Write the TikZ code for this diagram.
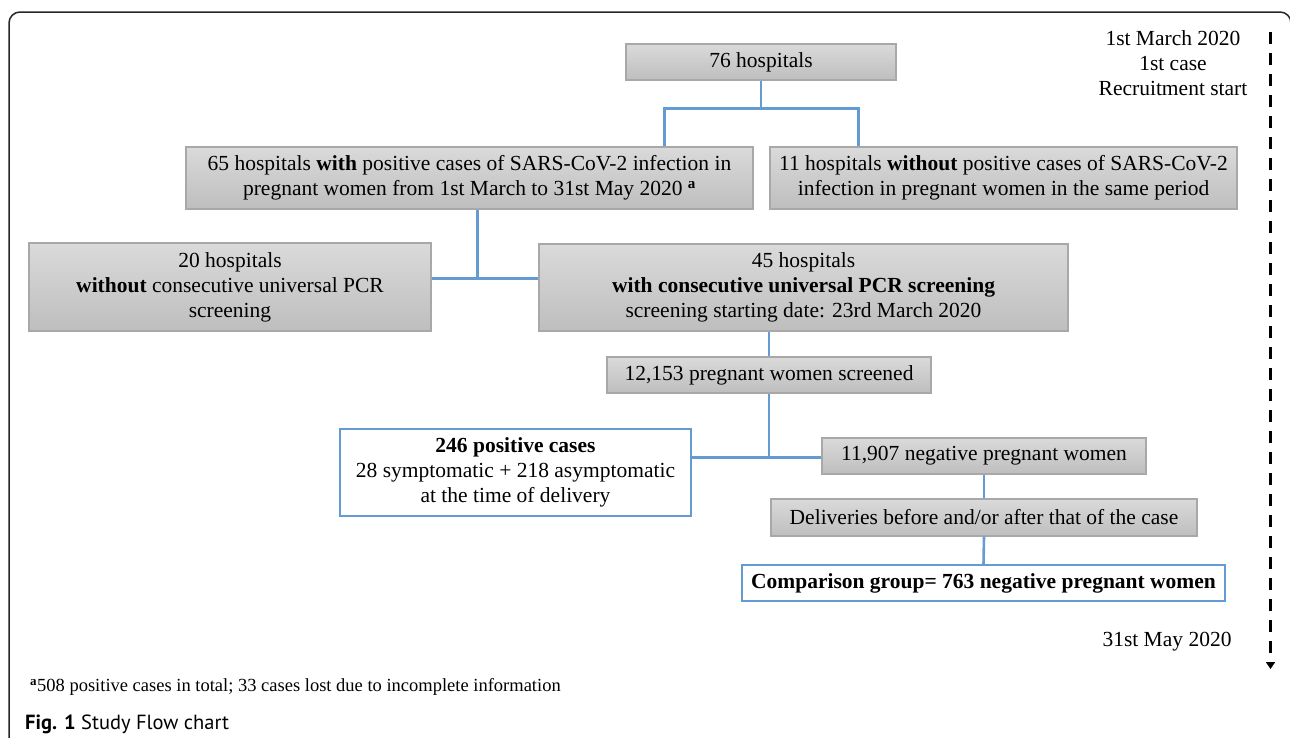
\documentclass[tikz,border=0pt]{standalone}
\usepackage{fontspec}
\setmainfont{Liberation Serif}
\newfontfamily\capfont{PT Sans}
\usetikzlibrary{calc,arrows.meta}
\definecolor{lineblue}{RGB}{100,155,210}
\definecolor{boxtop}{RGB}{218,218,218}
\definecolor{boxbot}{RGB}{190,190,190}
\definecolor{boxedge}{RGB}{168,168,168}
\begin{document}
\begin{tikzpicture}[x=1pt,y=-1pt,
  txt/.style={font=\fontsize{21.5}{25}\selectfont, align=center, inner sep=0pt},
  graybox/.style={txt, draw=boxedge, line width=1.2pt, top color=boxtop, bottom color=boxbot},
  bluebox/.style={txt, draw=lineblue, line width=1.3pt, fill=white},
  conn/.style={draw=lineblue, line width=2.6pt},
]
\clip (0,0) rectangle (1290,737);
\fill[white] (0,0) rectangle (1290,737);
% outer frame
\draw[line width=1.5pt, black!85, rounded corners=11pt] (9,760) -- (9,12) -- (1291,12) -- (1291,760);

% boxes
\node[graybox, minimum width=270, minimum height=36] (n76) at (761,62) {76 hospitals};
\node[graybox, minimum width=567, minimum height=62] (n65) at (469.5,178)
  {65 hospitals \textbf{with} positive cases of SARS-CoV-2 infection in\\
   pregnant women from 1st March to 31st May 2020 \textsuperscript{\textbf{a}}};
\node[graybox, minimum width=467, minimum height=62] (n11) at (1003.5,178)
  {11 hospitals \textbf{without} positive cases of SARS-CoV-2\\
   infection in pregnant women in the same period};
\node[graybox, minimum width=402, minimum height=88] (n20) at (230,287)
  {20 hospitals\\ \textbf{without} consecutive universal PCR\\ screening};
\node[graybox, minimum width=529, minimum height=87] (n45) at (803.5,287.5)
  {45 hospitals\\ \textbf{with consecutive universal PCR screening}\\ screening starting date: 23rd March 2020};
\node[graybox, minimum width=324, minimum height=36] (n12) at (769,375) {12,153 pregnant women screened};
\node[bluebox, minimum width=351, minimum height=87] (n246) at (515.5,472.5)
  {\textbf{246 positive cases}\\ 28 symptomatic + 218 asymptomatic\\ at the time of delivery};
\node[graybox, minimum width=324, minimum height=36] (n11907) at (984,456) {11,907 negative pregnant women};
\node[graybox, minimum width=426, minimum height=37] (ndel) at (984,517.5) {Deliveries before and/or after that of the case};
\node[bluebox, minimum width=483, minimum height=36] (ncomp) at (983.5,583)
  {\textbf{Comparison group= 763 negative pregnant women}};

% connectors
\coordinate (j1) at ($(n76.south)+(0,28)$);
\draw[conn] (n76.south) -- (j1);
\draw[conn] ($(n65.north west)+(479,0)$) |- (j1) -| ($(n11.north west)+(89,0)$);
\coordinate (j2) at ($(n65.south west)+(292,69)$);
\draw[conn] (j2 |- n65.south) -- (j2);
\draw[conn] (n20.east |- j2) -- (n45.west |- j2);
\draw[conn] (n12.north) -- (n12.north |- n45.south);
\coordinate (j3) at ($(n12.south)+(0,64)$);
\draw[conn] (n12.south) -- (j3);
\draw[conn] (n246.east |- j3) -- (n11907.west |- j3);
\draw[conn] (n11907.south) -- (ndel.north);
\draw[conn] (ndel.south) -- (ncomp.north);

% timeline
\node[txt] (tstart) at (1173,63) {1st March 2020\\ 1st case\\ Recruitment start};
\node[txt] (tend) at (1167,642) {31st May 2020};
\coordinate (ta) at (1270.5,32);
\coordinate (tb) at (1270.5,669);
\draw[line width=3pt, dash pattern=on 12pt off 9pt, -{Triangle[length=7pt,width=9pt]}] (ta) -- (tb);

% footnote and caption
\node[anchor=west, inner sep=0pt, font=\fontsize{18.5}{21}\selectfont] (foot) at (30,687)
  {\textsuperscript{\textbf{a}}508 positive cases in total; 33 cases lost due to incomplete information};
\node[anchor=west, inner sep=0pt, font=\capfont\fontsize{20.5}{23}\selectfont] (cap) at (25,724)
  {\textbf{Fig. 1} Study Flow chart};
\end{tikzpicture}
\end{document}
